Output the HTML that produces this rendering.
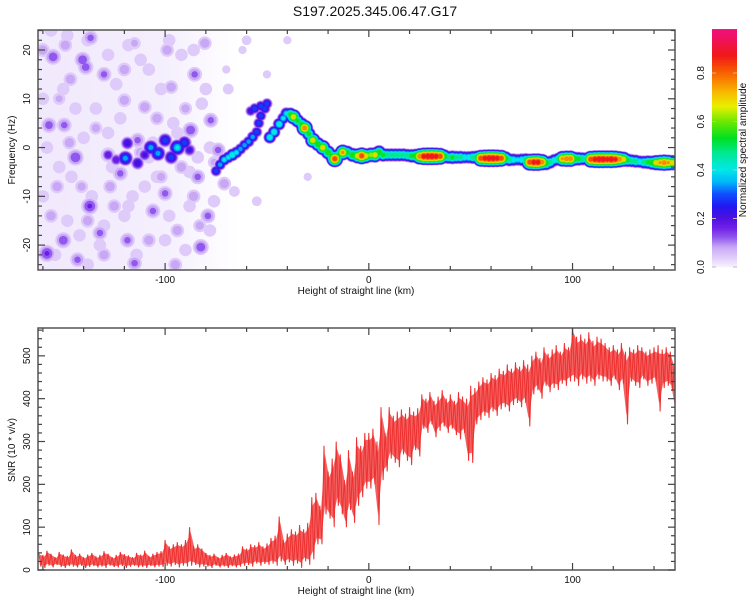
<!DOCTYPE html>
<html><head><meta charset="utf-8"><style>
body{margin:0;background:#fff;}
svg{display:block;font-family:"Liberation Sans",sans-serif;}
</style></head><body>
<svg id="root" width="750" height="600" viewBox="0 0 750 600">
<defs>
<linearGradient id="fadeBg" x1="0" y1="0" x2="1" y2="0">
<stop offset="0" stop-color="#ebe0fb" stop-opacity="0.7"/>
<stop offset="0.6" stop-color="#ebe0fb" stop-opacity="0.55"/>
<stop offset="1" stop-color="#ebe0fb" stop-opacity="0"/>
</linearGradient>
</defs>
<text x="375" y="16" text-anchor="middle" font-size="14" fill="#111">S197.2025.345.06.47.G17</text>
<g id="top"></g>
<g id="cbar"></g>
<g id="bot"></g>
</svg>
<script>
// ---------- data ----------
const ridgeX=[-75,-73,-71,-69,-67,-65,-63,-61,-59,-57,-55,-54,-53,-51,-50,-53,-56,-58,
-48.6,-46.5,-44,-42,-40.5,-38.5,-37,-35,-33,-31.5,-29.5,-27.5,-25,-22.6,-20,-18,-16.7,-15,-12.8,-10.5,-8,-5.5,-3.5,-1.5,
1,3,5,7,9,11,13,15,17,19,21,23,25,27,29,31,33,35,37,39,41,43,45,47,49,51,53,55,57,59,61,63,65,67,69,71,73,75,77,79,81,83,85,87,89,91,93,95,97,99,101,103,105,107,109,111,113,115,117,119,121,123,125,127,129,131,133,135,137,139,141,143,145,147,149];
const ridgeF=[-4.8,-3.5,-2.5,-2,-1.5,-1,-0.3,0.5,1.2,2.2,3.2,5,6.5,8,9,8.5,8,7.5,
2.1,3.2,4.8,6,7,6.8,6.3,5.5,4.8,4,2.8,1.5,0.7,0,-1,-1.8,-2.3,-1.6,-1,-1,-1.5,-1.7,-1.7,-1.7,
-1.5,-1.5,-1,-1.5,-1.5,-1.5,-1.5,-1.5,-1.5,-1.6,-1.7,-1.7,-1.8,-1.8,-1.8,-1.8,-1.8,-1.8,-1.8,-2,-2,-2,-2,-2,-2,-2,-2,-2.2,-2.2,-2.2,-2.2,-2.2,-2.2,-2.2,-2.5,-2.5,-2.5,-2.5,-2.5,-3,-3,-3,-3,-3.2,-3,-2.6,-2.4,-2.3,-2.3,-2.3,-2.3,-2.3,-2.3,-2.3,-2.4,-2.4,-2.4,-2.4,-2.4,-2.4,-2.4,-2.4,-2.4,-2.6,-2.7,-2.8,-2.9,-3,-3,-3.1,-3.1,-3.1,-3.1,-3.1,-3.1];
const ridgeA=[0.3,0.35,0.4,0.4,0.45,0.4,0.35,0.35,0.35,0.35,0.3,0.3,0.3,0.3,0.3,0.3,0.3,0.25,
0.45,0.45,0.45,0.4,0.4,0.55,0.7,0.55,0.55,0.8,0.55,0.7,0.6,0.7,0.6,0.6,0.85,0.55,0.75,0.55,0.6,0.7,0.85,0.7,
0.65,0.7,0.6,0.55,0.5,0.5,0.5,0.5,0.5,0.5,0.55,0.6,0.8,0.9,0.92,0.92,0.9,0.85,0.6,0.5,0.55,0.5,0.5,0.45,0.45,0.5,0.55,0.85,0.9,0.92,0.92,0.9,0.85,0.6,0.5,0.45,0.4,0.45,0.5,0.85,0.9,0.9,0.8,0.6,0.5,0.45,0.5,0.75,0.8,0.8,0.6,0.55,0.5,0.5,0.85,0.9,0.92,0.92,0.9,0.92,0.88,0.8,0.7,0.55,0.5,0.5,0.45,0.5,0.55,0.6,0.7,0.75,0.8,0.75,0.7];
const clusterX=[-128,-118.5,-119.5,-113.5,-107,-103.5,-100,-94,-97,-90.5,-110,-124,-88];
const clusterF=[-1.5,0.9,-2.2,-3.2,0,-1.2,1.5,0,-2,1,-1.5,-2.5,-0.5];
const clusterA=[0.2,0.25,0.35,0.25,0.35,0.35,0.3,0.4,0.3,0.3,0.22,0.2,0.22];
const noiseX=[-155,-140.5,-139,-149,-136.6,-130,-157,-149.5,-144,-128,-137,-150,-158,-132,-118.5,-115,-106,-85.5,-87.5,-77.6,-84,-82.5,-79,-99,-113.5,-122,-160,-146.5,-120,-110,-97,-153,-127,-100,-94,-143,-74,-71,-80.5,-115,-152,-134,-125,-104,-92,-86,-141,-120,-108,-90,-156,-130,-112,-95,-83,-147,-138,-102,-76,-69,-66,-60,-55];
const noiseF=[18.6,18,16.5,21,22.5,15,4.6,4.6,-2,-1.5,-12,-19,-21.7,-17.5,-19,-23.7,-13,15,3.6,5.6,-6,-20.4,-14,20,1.5,-5.3,20,14,9.7,8.3,12.4,-8,-8,-9.4,-17,-23,-0.5,-7.4,21.4,21.4,10,4,-12,6,-4,-10,-8,16,-19,8,-14,-22,-1,-24,-16,1,-15,-6,-3,12,-9,22,-11];
const noiseA=[0.14,0.14,0.13,0.1,0.12,0.12,0.13,0.12,0.15,0.12,0.16,0.14,0.16,0.12,0.12,0.12,0.12,0.12,0.14,0.12,0.12,0.14,0.12,0.1,0.12,0.12,0.1,0.1,0.1,0.1,0.1,0.1,0.1,0.12,0.1,0.12,0.12,0.1,0.1,0.08,0.08,0.09,0.1,0.1,0.1,0.1,0.09,0.1,0.1,0.09,0.1,0.1,0.1,0.1,0.09,0.1,0.1,0.09,0.08,0.06,0.06,0.05,0.05];
const lightX=[-160,-152,-144,-136,-128,-120,-112,-104,-96,-88,-80,-156,-148,-140,-132,-124,-116,-108,-100,-92,-84,-76,-160,-150,-142,-134,-126,-118,-110,-102,-94,-86,-78,-154,-146,-138,-130,-122,-114,-106,-98,-90,-82,-158,-148,-138,-128,-118,-108,-98,-88,-78,-70,-62,-50,-40,-30];
const lightF=[10,-4,8,-10,3,-14,18,-6,5,-12,12,24,-15,2,-20,13,-10,16,-19,19,-2,-11,-10,12,-18,8,-4,21,-8,12,3,20,-17,-22,-6,22,-16,6,-22,1,-14,-21,9,0,23,-24,19,-12,-2,22,-5,0,16,20,15,22,-6];
const lightA=[0.05,0.05,0.05,0.05,0.05,0.05,0.05,0.05,0.05,0.05,0.05,0.05,0.05,0.05,0.05,0.05,0.05,0.05,0.05,0.05,0.05,0.05,0.05,0.05,0.05,0.05,0.05,0.05,0.05,0.05,0.05,0.05,0.05,0.05,0.05,0.05,0.05,0.05,0.05,0.05,0.05,0.05,0.05,0.05,0.05,0.05,0.05,0.05,0.05,0.05,0.05,0.05,0.03,0.03,0.03,0.03,0.03];
const snrStart=-162, snrStep=2;
const snrHi=[40,35,45,38,30,42,36,33,48,35,38,30,36,40,32,35,44,38,30,35,42,37,34,30,40,36,45,33,38,42,44,
70,55,60,65,60,70,100,55,60,50,
40,35,38,30,35,40,32,36,38,
55,50,60,58,65,55,62,
75,80,125,70,85,
95,90,105,95,110,
170,180,150,
290,230,260,300,270,210,280,230,310,290,320,
320,330,300,380,320,
380,360,370,375,365,380,370,378,
410,400,415,395,405,420,400,410,395,415,405,400,
430,425,440,450,445,460,455,470,465,480,470,485,475,490,480,
500,510,495,520,505,515,525,510,530,520,
570,545,550,540,555,535,545,540,
530,520,525,515,530,510,520,515,525,520,510,515,520,525,515,520,510,480];
const snrLo=[8,5,10,6,12,7,5,9,8,6,10,5,7,9,6,8,5,10,7,6,9,5,8,10,6,7,5,9,6,8,7,
10,8,12,6,10,8,10,12,6,8,
8,5,10,6,8,5,9,6,8,
10,12,8,15,10,14,12,
15,10,20,12,18,
10,15,5,20,12,
25,60,60,
130,120,100,150,130,100,140,110,150,170,190,
190,200,105,210,230,
260,250,240,270,255,245,280,265,
330,320,340,310,325,335,320,330,315,305,320,255,
250,340,350,360,355,370,360,375,380,370,385,390,380,390,335,
410,420,400,430,415,425,420,435,430,440,
440,430,445,435,440,430,445,440,
440,430,445,420,435,340,440,430,425,445,430,435,440,370,425,430,420,360];
const xTicks=[-100,0,100];
const cbTicks=[0.0,0.2,0.4,0.6,0.8];
const snrTicks=[0,100,200,300,400,500];
const freqTicks=[-20,-10,0,10,20];

// ---------- helpers ----------
const NS='http://www.w3.org/2000/svg';
function mk(tag,attrs,parent){const e=document.createElementNS(NS,tag);for(const k in attrs)e.setAttribute(k,attrs[k]);parent.appendChild(e);return e;}
const L=38,R=675,TT=30,TB=270,BT=328,BB=570;
const XMIN=-162.4,XMAX=150.3;
const sx=v=>L+(v-XMIN)/(XMAX-XMIN)*(R-L);
const FMIN=-25.1,FMAX=24.1;
const sf=v=>TB-(v-FMIN)/(FMAX-FMIN)*(TB-TT);
const SMAX=565;
const ss=v=>BB-v/SMAX*(BB-BT);
const stops=[[0,'#f6f0ff'],[0.03,'#e4d4fb'],[0.08,'#c8a8f5'],[0.12,'#9058ee'],[0.16,'#7020e6'],[0.2,'#5010e0'],[0.25,'#2018f0'],[0.3,'#1050ff'],[0.35,'#00b8f8'],[0.4,'#00e8e8'],[0.47,'#00e890'],[0.53,'#00e020'],[0.6,'#70e800'],[0.66,'#e8f000'],[0.72,'#f8b800'],[0.8,'#f86000'],[0.87,'#f01818'],[0.96,'#f01070'],[1,'#f01080']];
function hex(c){return [parseInt(c.substr(1,2),16),parseInt(c.substr(3,2),16),parseInt(c.substr(5,2),16)];}
function cmap(v){for(let i=1;i<stops.length;i++){if(v<=stops[i][0]){const a=stops[i-1],b=stops[i];const t=(v-a[0])/(b[0]-a[0]);const ca=hex(a[1]),cb=hex(b[1]);return 'rgb('+ca.map((c,j)=>Math.round(c+(cb[j]-c)*t)).join(',')+')';}}return stops[stops.length-1][1];}

// ---------- top panel ----------
const topG=document.getElementById('top');
const clipT=mk('clipPath',{id:'ctop'},topG);mk('rect',{x:L,y:TT,width:R-L,height:TB-TT},clipT);
const plotG=mk('g',{'clip-path':'url(#ctop)'},topG);


const bgr=mk('rect',{x:sx(-163),y:TT,width:sx(-64)-sx(-163),height:TB-TT,fill:'url(#fadeBg)'},plotG);


const levels=[0.02,0.06,0.1,0.15,0.2,0.26,0.32,0.38,0.45,0.52,0.6,0.67,0.74,0.8,0.86,0.92];
function drawBlobs(xs,fs,as,R0,RK,name){
  const g=mk('g',{},plotG);
  
  
  levels.forEach(l=>{
    for(let i=0;i<xs.length;i++){
      const a=as[i];if(l>=a)continue;
      const rad=(R0+RK*a)*Math.pow(1-l/a,0.7)+1.2;
      const c=mk('circle',{cx:sx(xs[i]),cy:sf(fs[i]),r:rad.toFixed(2),fill:cmap(l+0.02)},g);
      
      
    }
  });
}
drawBlobs(lightX,lightF,lightA,5,45,'light-noise');
drawBlobs(noiseX,noiseF,noiseA,4,26,'noise-blobs');
drawBlobs(clusterX,clusterF,clusterA,3,12,'early-signal-cluster');
drawBlobs(ridgeX,ridgeF,ridgeA,3.2,5.5,'signal-ridge');

function drawFrame(g,yT,yB,name){const r=mk('rect',{x:L,y:yT,width:R-L,height:yB-yT,fill:'none',stroke:'#555',"stroke-width":1.5},g);
}
function xAxis(g,yT,yB,labY){
  for(let v=-160;v<=150;v+=20){const x=sx(v);const maj=xTicks.indexOf(v)>=0;const len=maj?7:4;
    mk('line',{x1:x,y1:yB,x2:x,y2:yB-len,stroke:'#444',"stroke-width":1.2},g);
    mk('line',{x1:x,y1:yT,x2:x,y2:yT+len,stroke:'#444',"stroke-width":1.2},g);}
  xTicks.forEach(v=>{const t=mk('text',{x:sx(v),y:labY,'text-anchor':'middle','font-size':10,fill:'#111'},g);t.textContent=String(v);
    });
  const t=mk('text',{x:356,y:labY+11,'text-anchor':'middle','font-size':10,fill:'#111'},g);t.textContent='Height of straight line (km)';
  
}
drawFrame(topG,TT,TB,'spectrogram-frame');
xAxis(topG,TT,TB,283);
for(let v=-24;v<=24;v+=2){const y=sf(v);const maj=v%10===0;const len=maj?7:4;
  mk('line',{x1:L,y1:y,x2:L+len,y2:y,stroke:'#444',"stroke-width":1.2},topG);
  mk('line',{x1:R,y1:y,x2:R-len,y2:y,stroke:'#444',"stroke-width":1.2},topG);}
freqTicks.forEach(v=>{const y=sf(v);const t=mk('text',{x:30,y:y,'text-anchor':'middle','font-size':10,fill:'#111',transform:'rotate(-90 30 '+y+')'},topG);t.textContent=String(v);
  });
{const t=mk('text',{x:15,y:150,'text-anchor':'middle','font-size':10,fill:'#111',transform:'rotate(-90 15 150)'},topG);t.textContent='Frequency (Hz)';
}

// ---------- colorbar ----------
const cbG=document.getElementById('cbar');
const cy=v=>267-v*242.5;
for(let v=0;v<0.977;v+=0.005){const r=mk('rect',{x:712,y:cy(v+0.005)-0.3,width:25,height:(0.005*242.5+0.6),fill:cmap(v)},cbG);
  }
cbTicks.forEach(v=>{const y=cy(v);const t=mk('text',{x:704,y:y,'text-anchor':'middle','font-size':10,fill:'#111',transform:'rotate(-90 704 '+y+')'},cbG);t.textContent=v.toFixed(1);
  
  mk('line',{x1:712,y1:y,x2:716,y2:y,stroke:'#bbb'},cbG);mk('line',{x1:733,y1:y,x2:737,y2:y,stroke:'#bbb'},cbG);});
{const t=mk('text',{x:746,y:150,'text-anchor':'middle','font-size':10,fill:'#111',transform:'rotate(-90 746 150)'},cbG);t.textContent='Normalized spectral amplitude';
}

// ---------- bottom panel ----------
const botG=document.getElementById('bot');
const clipB=mk('clipPath',{id:'cbot'},botG);mk('rect',{x:L,y:BT,width:R-L,height:BB-BT},clipB);
const upper=[],lower=[];
for(let i=0;i<snrHi.length;i++){const x=sx(snrStart+i*snrStep+0.5);
  const m=(snrHi[i]+snrLo[i])/2,h=(snrHi[i]-snrLo[i])/2*0.75;
  upper.push(x.toFixed(1)+','+ss(m+h).toFixed(1));
  lower.unshift(x.toFixed(1)+','+ss(m-h).toFixed(1));}
const band=mk('polygon',{points:upper.concat(lower).join(' '),fill:'#f03a3a',opacity:0.8,'clip-path':'url(#cbot)'},botG);


const pts=[];
for(let i=0;i<snrHi.length;i++){const x=snrStart+i*snrStep;
  pts.push(sx(x).toFixed(1)+','+ss(snrHi[i]).toFixed(1));
  pts.push(sx(x+snrStep/2).toFixed(1)+','+ss(snrLo[i]).toFixed(1));}
const snrLine=mk('polyline',{points:pts.join(' '),fill:'none',stroke:'#ee3030','stroke-width':1,'stroke-linejoin':'miter','clip-path':'url(#cbot)'},botG);


drawFrame(botG,BT,BB,'snr-frame');
xAxis(botG,BT,BB,583);
for(let v=0;v<=560;v+=20){const y=ss(v);const maj=v%100===0;const len=maj?7:4;
  mk('line',{x1:L,y1:y,x2:L+len,y2:y,stroke:'#444',"stroke-width":1.2},botG);
  mk('line',{x1:R,y1:y,x2:R-len,y2:y,stroke:'#444',"stroke-width":1.2},botG);}
snrTicks.forEach(v=>{const y=ss(v);const t=mk('text',{x:30,y:y,'text-anchor':'middle','font-size':10,fill:'#111',transform:'rotate(-90 30 '+y+')'},botG);t.textContent=String(v);
  });
{const t=mk('text',{x:15,y:450,'text-anchor':'middle','font-size':10,fill:'#111',transform:'rotate(-90 15 450)'},botG);t.textContent='SNR (10 * v/v)';
}
</script>
</body></html>
